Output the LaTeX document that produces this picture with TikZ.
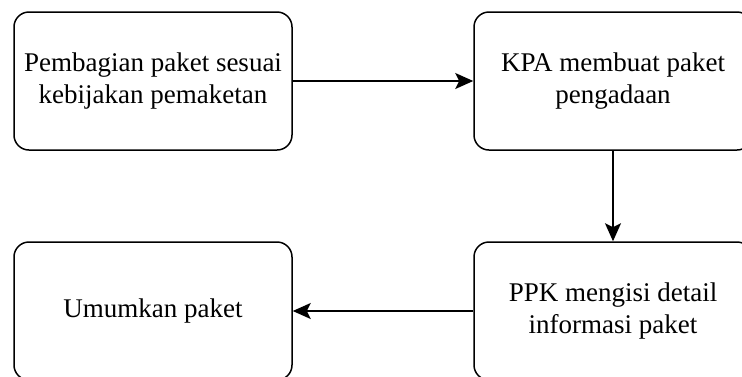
\documentclass[tikz,border=0pt]{standalone}
\usepackage{fontspec}
\setmainfont{Liberation Serif}
\usetikzlibrary{arrows.meta}

\begin{document}
\begin{tikzpicture}[x=1pt,y=-1pt,
	box/.style={draw, line width=1.5pt, rounded corners=15pt, minimum width=278pt, minimum height=138pt, align=center, inner sep=0pt, font=\fontsize{27}{32}\selectfont},
	arr/.style={-{Stealth[length=18pt,width=16pt,inset=4pt]}, line width=1.5pt}]
	\useasboundingbox (0,0) rectangle (742,376);
	\clip (0,0) rectangle (742,376);

	\node[box] (bagi) at (153,81) {Pembagian paket sesuai\\kebijakan pemaketan};
	\node[box] (kpa) at (613,81) {KPA membuat paket\\pengadaan};
	\node[box] (ppk) at (613,311) {PPK mengisi detail\\informasi paket};
	\node[box] (umum) at (153,311) {Umumkan paket};

	\draw[arr] (bagi) -- (kpa);
	\draw[arr] (kpa) -- (ppk);
	\draw[arr] (ppk) -- (umum);
\end{tikzpicture}
\end{document}
